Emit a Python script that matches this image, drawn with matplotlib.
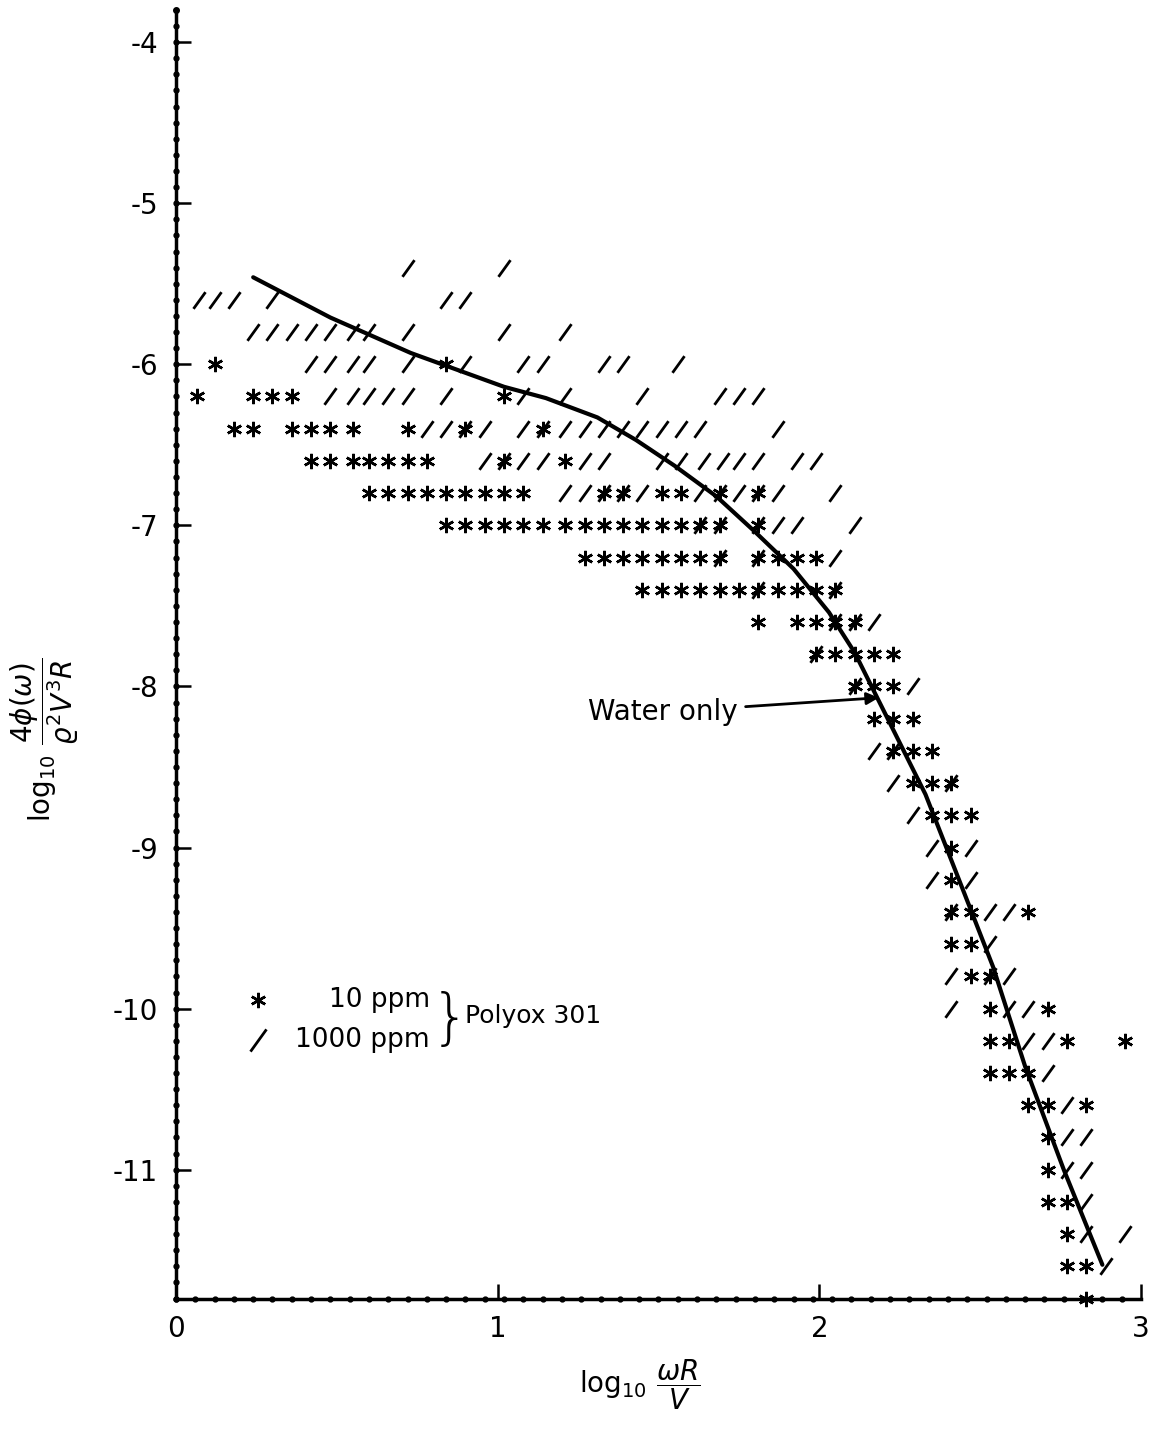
import numpy as np
import matplotlib
matplotlib.use("Agg")
import matplotlib.pyplot as plt
from matplotlib.path import Path

# ---------------- data ----------------
# 10 ppm Polyox 301 (asterisks): one row per ordinate level
ppm10_levels = [-6.0, -6.2, -6.4, -6.6, -6.8, -7.0, -7.2, -7.4, -7.6, -7.8,
                -8.0, -8.2, -8.4, -8.6, -8.8, -9.0, -9.2, -9.4, -9.6, -9.8,
                -10.0, -10.2, -10.4, -10.6, -10.8, -11.0, -11.2, -11.4, -11.6, -11.8]
ppm10_x = [
    [0.12, 0.84],
    [0.065, 0.24, 0.30, 0.36, 1.02],
    [0.18, 0.24, 0.36, 0.42, 0.48, 0.55, 0.72, 0.90, 1.14],
    [0.42, 0.48, 0.55, 0.60, 0.66, 0.72, 0.78, 1.02, 1.21],
    [0.60, 0.66, 0.72, 0.78, 0.84, 0.90, 0.96, 1.02, 1.08, 1.33, 1.39, 1.51, 1.57, 1.69, 1.81],
    [0.84, 0.90, 0.96, 1.02, 1.08, 1.14, 1.21, 1.27, 1.33, 1.39, 1.45, 1.51, 1.57, 1.63, 1.69, 1.81],
    [1.27, 1.33, 1.39, 1.45, 1.51, 1.57, 1.63, 1.69, 1.81, 1.87, 1.93, 1.99],
    [1.45, 1.51, 1.57, 1.63, 1.69, 1.75, 1.81, 1.87, 1.93, 1.99, 2.05],
    [1.81, 1.93, 1.99, 2.05, 2.11],
    [1.99, 2.05, 2.11, 2.17, 2.23],
    [2.11, 2.17, 2.23],
    [2.17, 2.23, 2.29],
    [2.23, 2.29, 2.35],
    [2.29, 2.35, 2.41],
    [2.35, 2.41, 2.47],
    [2.41],
    [2.41],
    [2.41, 2.47, 2.65],
    [2.41, 2.47],
    [2.47, 2.53],
    [2.53, 2.71],
    [2.53, 2.59, 2.77, 2.95],
    [2.53, 2.59, 2.65],
    [2.65, 2.71, 2.83],
    [2.71],
    [2.71],
    [2.71, 2.77],
    [2.77],
    [2.77, 2.83],
    [2.83],
]

# 1000 ppm Polyox 301 (slashes)
ppm1000_levels = [-5.4, -5.6, -5.8, -6.0, -6.2, -6.4, -6.6, -6.8, -7.0, -7.2,
                  -7.4, -7.6, -7.8, -8.0, -8.4, -8.6, -8.8, -9.0, -9.2, -9.4,
                  -9.6, -9.8, -10.0, -10.2, -10.4, -10.6, -10.8, -11.0, -11.2,
                  -11.4, -11.6]
ppm1000_x = [
    [0.72, 1.02],
    [0.07, 0.12, 0.18, 0.30, 0.84, 0.90],
    [0.24, 0.30, 0.36, 0.42, 0.48, 0.55, 0.60, 0.72, 1.02, 1.21],
    [0.42, 0.48, 0.55, 0.60, 0.72, 0.90, 1.08, 1.14, 1.33, 1.39, 1.56],
    [0.48, 0.55, 0.60, 0.66, 0.72, 0.84, 1.08, 1.21, 1.45, 1.69, 1.75, 1.81],
    [0.78, 0.84, 0.90, 0.96, 1.08, 1.14, 1.21, 1.27, 1.33, 1.39, 1.45, 1.51, 1.57, 1.63, 1.87],
    [0.96, 1.02, 1.08, 1.14, 1.27, 1.33, 1.51, 1.57, 1.64, 1.70, 1.75, 1.81, 1.93, 1.99],
    [1.21, 1.27, 1.33, 1.39, 1.45, 1.63, 1.69, 1.75, 1.81, 1.87, 2.05],
    [1.63, 1.69, 1.81, 1.87, 1.93, 2.11],
    [1.69, 1.81, 2.05],
    [1.81, 2.05],
    [2.05, 2.11, 2.17],
    [1.99],
    [2.11, 2.29],
    [2.17, 2.23],
    [2.23, 2.41],
    [2.29],
    [2.35, 2.47],
    [2.35, 2.47],
    [2.41, 2.53, 2.59],
    [2.53],
    [2.41, 2.53, 2.59],
    [2.41, 2.59, 2.65],
    [2.65, 2.71],
    [2.71],
    [2.77],
    [2.77, 2.83],
    [2.77, 2.83],
    [2.83],
    [2.83, 2.95],
    [2.89],
]

# "Water only" curve
water_x = [0.24, 0.48, 0.73, 1.02, 1.15, 1.31, 1.43, 1.55, 1.68, 1.80, 1.92,
           2.03, 2.11, 2.18, 2.25, 2.33, 2.45, 2.54, 2.64, 2.76, 2.88]
water_y = [-5.46, -5.71, -5.93, -6.14, -6.21, -6.33, -6.47, -6.63, -6.82, -7.04,
           -7.27, -7.54, -7.79, -8.07, -8.35, -8.67, -9.28, -9.74, -10.36,
           -11.00, -11.59]

x_ticks = [0, 1, 2, 3]
y_ticks = [-4, -5, -6, -7, -8, -9, -10, -11]

# ---------------- figure ----------------
plt.rcParams["font.family"] = ["DejaVu Sans"]
fig = plt.figure(figsize=(11.51, 14.30), dpi=100)
ax = fig.add_axes([0.1529, 0.0919, 0.8384, 0.9012])
ax.set_xlim(0, 3)
ax.set_ylim(-11.8, -3.8)

slash = Path([(-0.36, -0.5), (0.36, 0.5)], [Path.MOVETO, Path.LINETO])
star = (6, 2, 0)

sx = [x for xs in ppm10_x for x in xs]
sy = [lv for lv, xs in zip(ppm10_levels, ppm10_x) for _ in xs]
lx = [x for xs in ppm1000_x for x in xs]
ly = [lv for lv, xs in zip(ppm1000_levels, ppm1000_x) for _ in xs]

ax.plot(lx, ly, linestyle="none", marker=slash, markersize=12,
        markeredgewidth=2.0, markeredgecolor="black", markerfacecolor="none",
        clip_on=False)
ax.plot(sx, sy, linestyle="none", marker=star, markersize=11,
        markeredgewidth=1.8, markeredgecolor="black", clip_on=False)
ax.plot(water_x, water_y, color="black", linewidth=3.0,
        solid_capstyle="round", solid_joinstyle="round")

ax.annotate("Water only", xy=(2.185, -8.07), xytext=(1.745, -8.16),
            ha="right", va="center", fontsize=20,
            arrowprops=dict(arrowstyle="-|>", color="black", lw=2.0,
                            mutation_scale=18, shrinkA=4, shrinkB=0))

# spines / ticks
for s in ("top", "right"):
    ax.spines[s].set_visible(False)
ax.spines["left"].set_linewidth(2.5)
ax.spines["bottom"].set_linewidth(2.5)
ax.set_xticks(x_ticks)
ax.set_yticks(y_ticks)
ax.set_xticklabels([str(t) for t in x_ticks])
ax.set_yticklabels([str(t) for t in y_ticks])
ax.tick_params(axis="both", direction="in", length=11, width=1.8,
               labelsize=20, colors="black")
ax.tick_params(axis="y", pad=13)
ax.tick_params(axis="x", pad=12)

# beaded axes (decoration)
bx = np.arange(0, 2.99, 0.06)
ax.plot(bx, np.full_like(bx, -11.8), "o", color="black", markersize=3.5, clip_on=False)
by = np.arange(-11.8, -3.85, 0.1)
ax.plot(np.zeros_like(by), by, "o", color="black", markersize=3.5, clip_on=False)
ax.plot([0], [-3.8], "o", color="black", markersize=4, clip_on=False)

# legend drawn by hand
ax.plot([0.085], [0.2317], transform=ax.transAxes, linestyle="none", marker=star,
        markersize=11, markeredgewidth=1.8, markeredgecolor="black", clip_on=False)
ax.plot([0.085], [0.2007], transform=ax.transAxes, linestyle="none", marker=slash,
        markersize=16, markeredgewidth=2.0, markeredgecolor="black",
        markerfacecolor="none", clip_on=False)
ax.text(0.263, 0.2317, "10 ppm", transform=ax.transAxes, ha="right", va="center", fontsize=19)
ax.text(0.263, 0.2007, "1000 ppm", transform=ax.transAxes, ha="right", va="center", fontsize=19)
ax.text(0.264, 0.2160, "}", transform=ax.transAxes, ha="left", va="center",
        fontsize=44, fontweight="light")
ax.text(0.300, 0.2190, "Polyox 301", transform=ax.transAxes, ha="left", va="center", fontsize=18)

# axis titles
fig.text(45 / 1151, 1 - 740 / 1430,
         r"$\log_{10}\,\dfrac{4\phi(\omega)}{\varrho^{2}V^{3}R}$",
         rotation=90, ha="center", va="center", fontsize=20)
fig.text(640 / 1151, 1 - 1385 / 1430, r"$\log_{10}\,\dfrac{\omega R}{V}$",
         ha="center", va="center", fontsize=20)

fig.savefig("out.png", dpi=100)
